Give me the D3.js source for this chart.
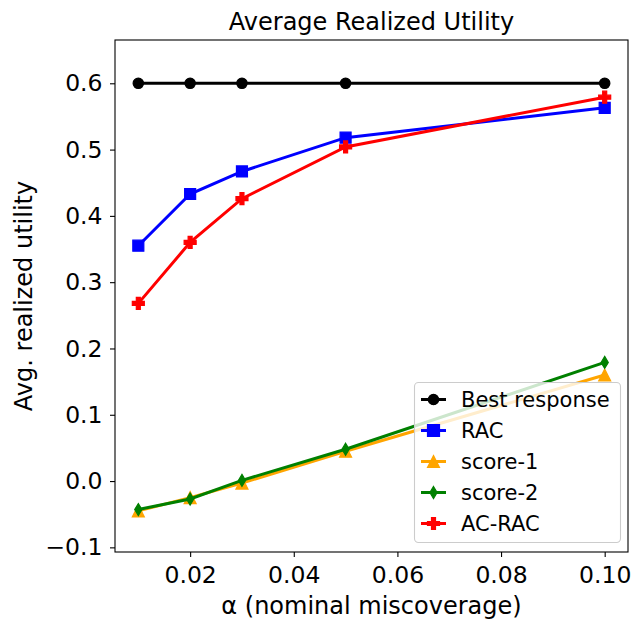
<!DOCTYPE html>
<html><head><meta charset="utf-8">
<script src="https://cdn.jsdelivr.net/npm/d3@7"></script>
<style>body{margin:0;background:#fff}svg{display:block}text{font-family:"DejaVu Sans",sans-serif;fill:#000}</style>
</head><body><svg id="c" width="632" height="622"></svg>
<script>
const alphas = [0.01, 0.02, 0.03, 0.05, 0.10];
const bestResponse = [0.600, 0.600, 0.600, 0.600, 0.600];
const rac = [0.355, 0.433, 0.467, 0.518, 0.563];
const score1 = [-0.045, -0.025, -0.003, 0.045, 0.160];
const score2 = [-0.043, -0.027, 0.001, 0.048, 0.179];
const acRac = [0.268, 0.360, 0.426, 0.504, 0.579];
const xTicks = [0.02, 0.04, 0.06, 0.08, 0.10];
const yTicks = [-0.1, 0.0, 0.1, 0.2, 0.3, 0.4, 0.5, 0.6];
const seriesNames = ["Best response", "RAC", "score-1", "score-2", "AC-RAC"];
const seriesColors = ["#000000", "#0000ff", "#ffa500", "#008000", "#ff0000"];
const seriesMarkers = ["circle", "square", "triangle", "thindiamond", "plus"];
const seriesValues = [bestResponse, rac, score1, score2, acRac];

const L = 115, R = 628, T = 40, B = 552;
const svg = d3.select("#c");
const x = d3.scaleLinear().domain([0.0055, 0.1045]).range([L, R]);
const y = d3.scaleLinear().domain([-0.107, 0.6653]).range([B, T]);

function markerPath(type, s) {
  const h = s / 2;
  switch (type) {
    case "circle": return d3.symbol(d3.symbolCircle, Math.PI * h * h * 0.75)();
    case "square": return `M${-h},${-h}H${h}V${h}H${-h}Z`;
    case "triangle": return `M0,${-h}L${h},${h}L${-h},${h}Z`;
    case "thindiamond": return `M0,${-h}L${h*0.6},0L0,${h}L${-h*0.6},0Z`;
    case "plus": { const a = h / 3;
      return `M${-a},${-h}H${a}V${-a}H${h}V${a}H${a}V${h}H${-a}V${a}H${-h}V${-a}H${-a}Z`; }
  }
}

const gx = svg.append("g").attr("transform", `translate(0,${B})`)
  .call(d3.axisBottom(x).tickValues(xTicks).tickFormat(d3.format(".2f")).tickSize(5).tickPadding(9));
const gy = svg.append("g").attr("transform", `translate(${L},0)`)
  .call(d3.axisLeft(y).tickValues(yTicks).tickFormat(d => d3.format(".1f")(d).replace("-", "\u2212")).tickSize(5).tickPadding(7.5));
[gx, gy].forEach(g => {
  g.select(".domain").remove();
  g.selectAll(".tick line").attr("stroke", "#000").attr("stroke-width", 1.1);
  g.selectAll(".tick text").attr("font-size", 23.5).attr("font-family", "DejaVu Sans").attr("fill", "#000");
});

const plot = svg.append("g");
const line = d3.line().x((d, i) => x(alphas[i])).y(d => y(d));
seriesValues.forEach((vals, si) => {
  const g = plot.append("g");
  g.append("path").attr("d", line(vals)).attr("fill", "none")
    .attr("stroke", seriesColors[si]).attr("stroke-width", 3);
  const sz = seriesMarkers[si] === "square" ? 11 : 12;
  g.selectAll("path.m").data(vals).join("path").attr("class", "m")
    .attr("transform", (d, i) => `translate(${x(alphas[i])},${y(d)})`)
    .attr("d", markerPath(seriesMarkers[si], sz))
    .attr("fill", seriesColors[si]).attr("stroke", seriesColors[si]).attr("stroke-width", 1.2);
});

svg.append("rect").attr("x", L).attr("y", T).attr("width", R - L).attr("height", B - T)
  .attr("fill", "none").attr("stroke", "#000").attr("stroke-width", 1.1);

const lg = svg.append("g");
lg.append("rect").attr("x", 414.5).attr("y", 382.5).attr("width", 206).attr("height", 160).attr("rx", 4)
  .attr("fill", "#fff").attr("fill-opacity", 0.8).attr("stroke", "#cccccc").attr("stroke-width", 1.1);
seriesNames.forEach((n, i) => {
  const yy = 399.5 + i * 31;
  lg.append("line").attr("x1", 421).attr("x2", 446).attr("y1", yy).attr("y2", yy)
    .attr("stroke", seriesColors[i]).attr("stroke-width", 3);
  lg.append("path").attr("transform", `translate(433.5,${yy})`)
    .attr("d", markerPath(seriesMarkers[i], 12)).attr("fill", seriesColors[i]).attr("stroke", seriesColors[i]).attr("stroke-width", 1.2);
  lg.append("text").attr("x", 461).attr("y", yy).attr("dy", "0.36em").attr("font-size", 21).text(n);
});

svg.append("text").attr("x", (L + R) / 2).attr("y", 30).attr("text-anchor", "middle").attr("font-size", 24).text("Average Realized Utility");
svg.append("text").attr("x", (L + R) / 2).attr("y", 614).attr("text-anchor", "middle").attr("font-size", 24).text("α (nominal miscoverage)");
svg.append("text").attr("transform", `translate(32,${(T + B) / 2}) rotate(-90)`).attr("text-anchor", "middle").attr("font-size", 24).text("Avg. realized utility");
</script></body></html>
